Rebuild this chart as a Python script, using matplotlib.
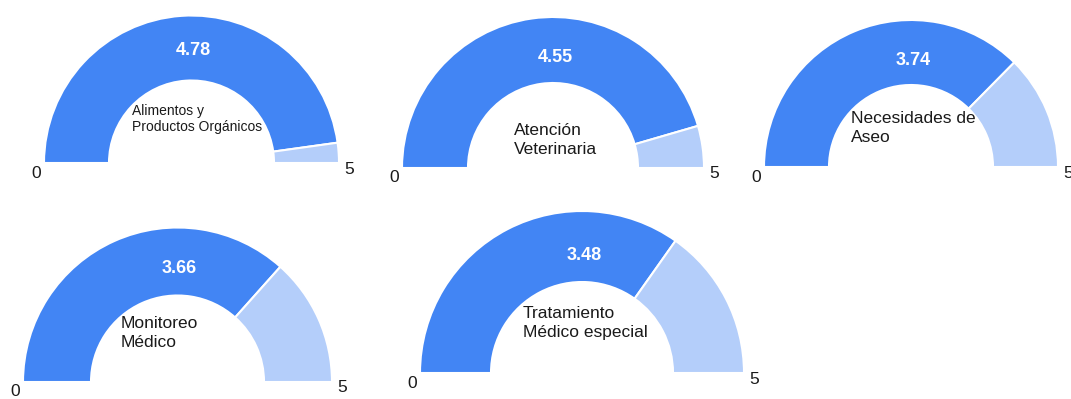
import matplotlib.pyplot as plt
from matplotlib.patches import Wedge

plt.rcParams['font.family'] = ['Liberation Sans', 'DejaVu Sans']

# data
labels = ["Alimentos y\nProductos Orgánicos", "Atención\nVeterinaria",
          "Necesidades de\nAseo", "Monitoreo\nMédico",
          "Tratamiento\nMédico especial"]
values = [4.78, 4.55, 3.74, 3.66, 3.48]
min_value = 0
max_value = 5

# layout in pixels:
# (x center, baseline y, outer r, inner r, value baseline y, label left, label top, label size, line spacing)
W, H = 1071, 399
layout = [
    (191.5, 163, 147.5, 82.5, 55, 132, 104, 10, 1.2),
    (553, 168, 151, 85, 62, 514, 123, 12.5, 1.3),
    (911, 167, 147, 82, 65, 851, 111, 12.5, 1.3),
    (177.5, 382, 154.5, 86.5, 273, 121, 316, 12.5, 1.3),
    (582, 373, 162, 91, 260, 523, 306, 12.5, 1.3),
]

blue = "#4285f4"
light = "#b4cefa"

fig = plt.figure(figsize=(W / 100, H / 100), dpi=100)
ax = fig.add_axes([0, 0, 1, 1])
ax.set_xlim(0, W)
ax.set_ylim(0, H)
ax.set_aspect('equal')
ax.axis('off')

for lab, val, (cx, by, R, r, vy, lx, ly, fs, ls) in zip(labels, values, layout):
    cy = H - by
    ang = 180 - 180 * (val - min_value) / (max_value - min_value)
    ax.add_patch(Wedge((cx, cy), R, ang, 180, width=R - r,
                       facecolor=blue, edgecolor='white', linewidth=1.5))
    ax.add_patch(Wedge((cx, cy), R, 0, ang, width=R - r,
                       facecolor=light, edgecolor='white', linewidth=1.5))
    ax.text(cx + 2, H - vy, f"{val:.2f}", color='white',
            fontsize=13, fontweight='bold', ha='center', va='baseline')
    ax.text(lx, H - ly, lab, fontsize=fs, ha='left', va='top',
            linespacing=ls, color='#1a1a1a')
    ax.text(cx - R - 8, cy - 10, str(min_value), fontsize=12.5,
            ha='center', va='center', color='#1a1a1a')
    ax.text(cx + R + 10, cy - 6, str(max_value), fontsize=12.5,
            ha='center', va='center', color='#1a1a1a')

fig.savefig("out.png", dpi=100, facecolor='white')
